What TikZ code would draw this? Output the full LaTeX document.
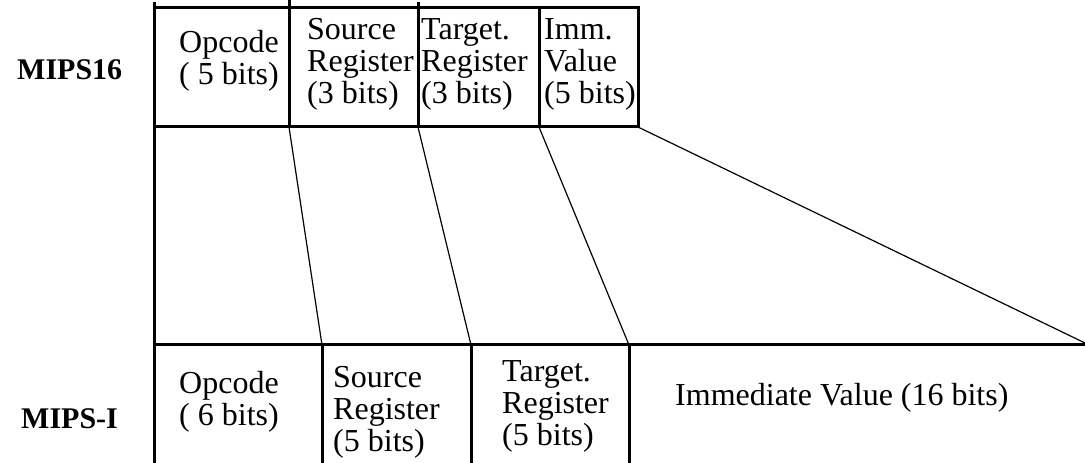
\documentclass[tikz,border=0pt]{standalone}
\usepackage{fontspec}
\setmainfont{Liberation Serif}
\newcommand\fieldlines[1]{\begin{tabular}[t]{@{}l@{}}#1\end{tabular}}
\begin{document}
\begin{tikzpicture}[x=1bp,y=-1bp,
  frame/.style={line width=3bp, line cap=rect},
  mapline/.style={line width=1.2bp},
  field/.style={anchor=base west, inner sep=0pt, font=\fontsize{32bp}{31.5bp}\selectfont},
  isa/.style={anchor=base west, inner sep=0pt, font=\fontsize{30bp}{30bp}\selectfont\bfseries}]
\useasboundingbox (0,0) rectangle (1085,463);

% field boundaries of the 16-bit format
\coordinate (t0) at (154,127);
\coordinate (t1) at (289,127);
\coordinate (t2) at (418,127);
\coordinate (t3) at (539,127);
\coordinate (t4) at (638,127);
% field boundaries of the 32-bit format
\coordinate (b0) at (154,345);
\coordinate (b1) at (322,345);
\coordinate (b2) at (471,345);
\coordinate (b3) at (629,345);
\coordinate (b4) at (1085,343);

% MIPS16 instruction word
\draw[frame] (154,8) rectangle (t4);
\draw[frame] (289,2) -- (t1);
\draw[frame] (418,4) -- (t2);
\draw[frame] (539,8) -- (t3);
\draw[frame] (154,4) -- (154,463);

% MIPS-I instruction word
\draw[frame] (b0) -- (1085,345);
\draw[frame] (b1) -- (322,463);
\draw[frame] (b2) -- (471,463);
\draw[frame] (b3) -- (629,463);

% field correspondence
\draw[mapline] (t1) -- (b1);
\draw[mapline] (t2) -- (b2);
\draw[mapline] (t3) -- (b3);
\draw[mapline] (t4) -- (b4);

% format names
\node[isa] (m16) at (17,80) {MIPS16};
\node[isa] (m1) at (21,429) {MIPS-I};

% MIPS16 fields
\node[field] (op16) at (179,53) {\fieldlines{Opcode\\( 5 bits)}};
\node[field] (rs16) at (307,40) {\fieldlines{Source\\Register\\(3 bits)}};
\node[field] (rt16) at (421,40) {\fieldlines{Target.\\Register\\(3 bits)}};
\node[field] (im16) at (544,40) {\fieldlines{Imm.\\Value\\(5 bits)}};

% MIPS-I fields
\node[field] (op32) at (179,394) {\fieldlines{Opcode\\( 6 bits)}};
\node[field] (rs32) at (333,388) {\fieldlines{Source\\Register\\(5 bits)}};
\node[field] (rt32) at (502,382) {\fieldlines{Target.\\Register\\(5 bits)}};
\node[field] (im32) at (675,406) {Immediate Value (16 bits)};
\end{tikzpicture}
\end{document}
